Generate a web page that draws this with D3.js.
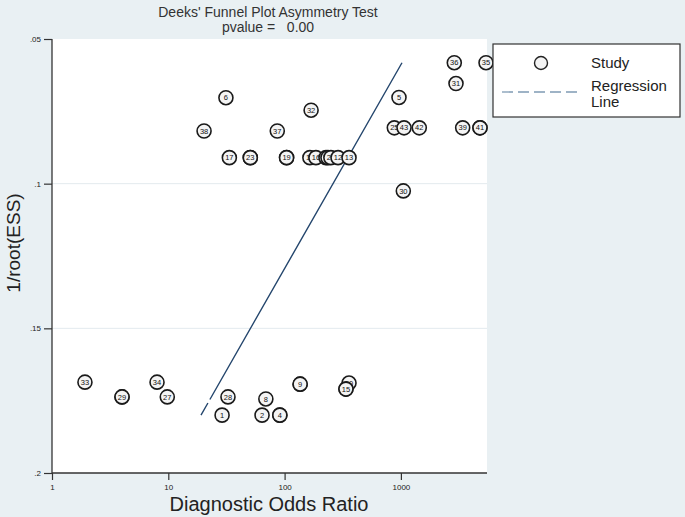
<!DOCTYPE html>
<html>
<head>
<meta charset="utf-8">
<title>Deeks' Funnel Plot</title>
<script src="https://d3js.org/d3.v7.min.js"></script>
<style>
*{ margin:0; padding:0; }
body{ background:#e9f0f3; }
svg{ display:block; font-family:"Liberation Sans", Arial, sans-serif; }
</style>
</head>
<body>
<script>
// studies: id, diagnostic odds ratio, 1/root(ESS)
var ids  = [33, 26, 29, 34, 27, 28, 1, 8, 2, 3, 4, 7, 9, 10, 14, 15,
            6, 38, 17, 22, 23, 37, 32, 18, 19, 11, 16, 20, 21, 24, 12, 13,
            5, 25, 43, 42, 36, 35, 31, 39, 40, 41, 30];
var dor  = [1.92, 4.0, 4.0, 8.0, 9.8, 32.6, 29, 69, 64, 91, 91, 136, 136, 358, 337, 337,
            31.3, 20.3, 33.5, 50.7, 50.7, 86.5, 169, 104, 104, 165, 186, 227, 236, 250, 288, 358,
            963, 878, 1064, 1439, 2878, 5395, 2977, 3398, 4787, 4787, 1049];
var ess  = [0.1686, 0.1737, 0.1737, 0.1686, 0.1737, 0.1737, 0.1800, 0.1744, 0.1800, 0.1800, 0.1800, 0.1693, 0.1693, 0.1689, 0.1710, 0.1710,
            0.0703, 0.0818, 0.0910, 0.0910, 0.0910, 0.0818, 0.0746, 0.0910, 0.0910, 0.0910, 0.0910, 0.0910, 0.0910, 0.0910, 0.0910, 0.0910,
            0.0702, 0.0807, 0.0807, 0.0807, 0.0582, 0.0582, 0.0654, 0.0807, 0.0807, 0.0807, 0.1025];

var regX = [19.1, 1022];
var regY = [0.1800, 0.0582];

var xTicks = [1, 10, 100, 1000];
var yTicks = [0.05, 0.1, 0.15, 0.2];
var yLabels = [".05", ".1", ".15", ".2"];

var width = 685, height = 517;
var pLeft = 52, pRight = 487, pTop = 39, pBottom = 473;

var svg = d3.select("body").append("svg")
    .attr("width", width)
    .attr("height", height);

var x = d3.scaleLog().domain([1, 5500]).range([pLeft, pRight]);
var y = d3.scaleLinear().domain([0.05, 0.2]).range([pTop, pBottom]);

// plot area
svg.append("rect")
    .attr("x", pLeft).attr("y", pTop)
    .attr("width", pRight - pLeft).attr("height", pBottom - pTop)
    .attr("fill", "#fff");

// grid lines
svg.selectAll(".grid").data([0.1, 0.15]).enter().append("line")
    .attr("x1", pLeft).attr("x2", pRight)
    .attr("y1", d => y(d)).attr("y2", d => y(d))
    .attr("stroke", "#e3eaee").attr("stroke-width", 1);

// axes
var yAxis = d3.axisLeft(y).tickValues(yTicks).tickSize(8)
    .tickFormat((d, i) => yLabels[i]);
var gy = svg.append("g").attr("transform", "translate(" + pLeft + ",0)").call(yAxis);

var xAxis = d3.axisBottom(x).tickValues(xTicks).tickSize(7)
    .tickFormat(d3.format("d"));
var gx = svg.append("g").attr("transform", "translate(0," + pBottom + ")").call(xAxis);

[gy, gx].forEach(function(g){
    g.select(".domain").attr("stroke", "#333").attr("stroke-width", 1.3);
    g.selectAll(".tick line").attr("stroke", "#333").attr("stroke-width", 1.2);
    g.selectAll(".tick text").attr("fill", "#222").style("font-size", "8px")
        .style("font-family", "'Liberation Sans', Arial, sans-serif");
});
gx.select(".domain").attr("d", "M" + pLeft + ",0H" + pRight);
gy.select(".domain").attr("d", "M0," + pTop + "V" + pBottom);
gy.selectAll(".tick text").attr("x", -11);
gx.selectAll(".tick text").attr("y", 11);

// regression line
svg.append("line")
    .attr("x1", x(regX[0])).attr("y1", y(regY[0]))
    .attr("x2", x(regX[1])).attr("y2", y(regY[1]))
    .attr("stroke", "#24466d").attr("stroke-width", 1.4)
    .attr("stroke-dasharray", "14,4,600");

// studies
var pts = ids.map((d, i) => ({id: d, x: dor[i], y: ess[i]}));
var g = svg.selectAll(".study").data(pts).enter().append("g")
    .attr("transform", d => "translate(" + x(d.x) + "," + y(d.y) + ")");
g.append("circle").attr("r", 7)
    .attr("fill", "#f4f4f4").attr("stroke", "#1a1a1a").attr("stroke-width", 1.6);
g.append("text").text(d => d.id)
    .attr("text-anchor", "middle").attr("dy", "0.35em")
    .style("font-size", "7.5px").attr("fill", "#111");

// titles
svg.append("text").attr("x", 268).attr("y", 17).attr("text-anchor", "middle")
    .style("font-size", "14px").attr("fill", "#333")
    .text("Deeks' Funnel Plot Asymmetry Test");
svg.append("text").attr("x", 268).attr("y", 32).attr("text-anchor", "middle")
    .style("font-size", "14px").attr("fill", "#333").style("white-space", "pre")
    .text("pvalue =   0.00");

svg.append("text").attr("x", 269).attr("y", 511).attr("text-anchor", "middle")
    .style("font-size", "20px").attr("fill", "#222")
    .text("Diagnostic Odds Ratio");
svg.append("text").attr("transform", "translate(20,243) rotate(-90)")
    .attr("text-anchor", "middle")
    .style("font-size", "19px").attr("fill", "#222")
    .text("1/root(ESS)");

// legend
var lg = svg.append("g");
lg.append("rect").attr("x", 493).attr("y", 44).attr("width", 187).attr("height", 73)
    .attr("fill", "#fff").attr("stroke", "#333").attr("stroke-width", 1.2);
lg.append("circle").attr("cx", 541).attr("cy", 63).attr("r", 6.5)
    .attr("fill", "#f4f4f4").attr("stroke", "#222").attr("stroke-width", 1.4);
lg.append("line").attr("x1", 502).attr("x2", 578).attr("y1", 92).attr("y2", 92)
    .attr("stroke", "#7f9bb4").attr("stroke-width", 1.3).attr("stroke-dasharray", "11,5");
lg.append("text").attr("x", 591).attr("y", 68).style("font-size", "15px").attr("fill", "#222").text("Study");
lg.append("text").attr("x", 591).attr("y", 91).style("font-size", "15px").attr("fill", "#222").text("Regression");
lg.append("text").attr("x", 591).attr("y", 107).style("font-size", "15px").attr("fill", "#222").text("Line");
</script>
</body>
</html>
